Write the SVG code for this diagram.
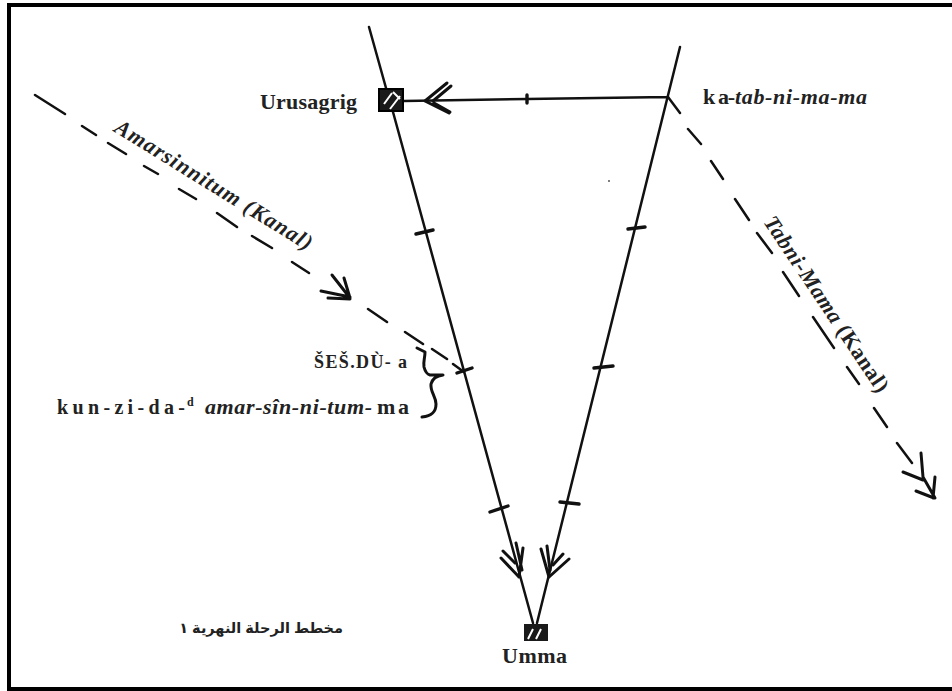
<svg xmlns="http://www.w3.org/2000/svg" width="952" height="691" viewBox="0 0 952 691">
<style>
.l{fill:none;stroke:#111;stroke-width:2.5;stroke-linecap:round;stroke-linejoin:round}
.t{stroke-width:3.4}
.h{stroke-width:3}
text{font-family:"Liberation Serif",serif;fill:#222;font-weight:bold}
.i{font-style:italic}
</style>
<rect width="952" height="691" fill="#fff"/>
<path d="M9 689V5H952M7 689H952" fill="none" stroke="#000" stroke-width="4"/>
<circle cx="609" cy="181" r="1" fill="#555"/>
<g id="connectors">
<path class="l" d="M369 27L386 88M393 112L533 623M404 101L527 99L668 97M680 47L537 623"/>
<path class="l" d="M35 95L65 114M82 126L96 135M108 143L126 154M144 166L158 174M179 189L196 199M217 213L237 227M252 236L272 248M292 262L309 273M368 309L387 322M405 332L423 344M432 349L447 359M453 364L464 372"/>
<path class="l" d="M668 97L680 113M688 129L701 144M711 161L723 179M735 199L749 220M757 233L772 253M783 272L799 296M813 317L834 348M847 367L859 384M874 408L887 427M897 443L912 463"/>
<path class="l h" d="M447 83L425 101L449 113M451 86L433 101M434 103L450 112"/>
<path class="l h" d="M332 275L350 298M344 278L350 298M321 291L350 297M328 298L350 299"/>
<path class="l h" d="M921 453L923 477M903 472L923 480M923 477L935 498M935 477L933 498M916 491L934 498"/>
<path class="l h" d="M516 543L522 570M523 548L519 577M501 558L519 577M503 551L515 563M541 549L549 577M547 546L550 570M569 559L549 577M563 554L553 565"/>
<path class="l t" d="M416 234L433 230M628 229L645 227M594 368L613 366M457 373L472 368M490 512L508 506M560 502L579 504M527 95V103"/>
<path class="l h" d="M417 348L425 352C425 358 423 362 424 367C425 371 426 374 430 375L443 375C436 376 432 380 431 384C430 392 436 396 436 404C436 412 432 416 422 417"/>
</g>
<g id="urusagrig">
<rect x="379" y="89" width="24" height="22" fill="#1a1a1a" stroke="#000" stroke-width="2"/>
<path d="M384 104L392 93M390 109L400 96M393 92L400 99" stroke="#fff" stroke-width="2"/>
<text x="260" y="109" font-size="22" textLength="97" lengthAdjust="spacing">Urusagrig</text>
</g>
<g id="umma">
<rect x="524" y="624" width="24" height="17" fill="#1a1a1a"/>
<path d="M528 639L533 629M536 639L541 629" stroke="#fff" stroke-width="2"/>
<text x="502" y="663" font-size="22" textLength="65" lengthAdjust="spacing">Umma</text>
</g>
<g id="labels">
<text y="104" font-size="22"><tspan x="703" textLength="32" lengthAdjust="spacing">k a-</tspan><tspan x="735" class="i" textLength="132" lengthAdjust="spacing">tab-ni-ma-ma</tspan></text>
<text x="314" y="368" font-size="18" font-weight="normal" textLength="93" lengthAdjust="spacing">ŠEŠ.DÙ- a</text>
<text y="414" font-size="20"><tspan x="57" y="414" textLength="128" lengthAdjust="spacing">k u n - z i - d a -</tspan><tspan x="187" y="406" font-size="12">d</tspan><tspan x="205" y="414" class="i" font-size="22" textLength="167" lengthAdjust="spacing">amar-sîn-ni-tum-</tspan><tspan x="377" y="414" font-size="22" textLength="32" lengthAdjust="spacing">ma</tspan></text>
<text class="i" transform="translate(113 131) rotate(31.7)" font-size="22" textLength="228" lengthAdjust="spacing">Amarsinnitum (Kanal)</text>
<text class="i" transform="translate(763 222) rotate(56.2)" font-size="22" textLength="207" lengthAdjust="spacing">Tabni-Mama <tspan font-style="normal">(Kanal)</tspan></text>
<text x="343" y="633" direction="rtl" font-size="14.5" style="font-family:'Liberation Sans','DejaVu Sans',sans-serif" fill="#000">مخطط الرحلة النهرية ١</text>
</g>
</svg>
